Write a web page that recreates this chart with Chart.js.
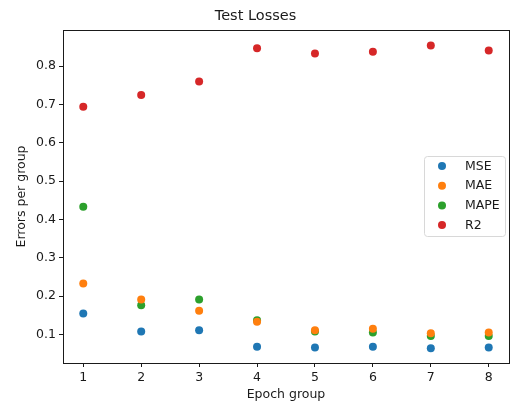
<!DOCTYPE html>
<html>
<head>
<meta charset="utf-8">
<script src="https://cdn.jsdelivr.net/npm/chart.js@4/dist/chart.umd.min.js"></script>
<style>
    html, body { margin: 0; padding: 0; background: #ffffff; }
    #wrap { width: 513px; height: 403px; }
</style>
</head>
<body>
<div id="wrap"><canvas id="losses" width="513" height="403"></canvas></div>
<script>
const epochs = [1, 2, 3, 4, 5, 6, 7, 8];
const mse = [0.155, 0.108, 0.111, 0.068, 0.066, 0.068, 0.064, 0.066];
const mae = [0.233, 0.191, 0.162, 0.133, 0.111, 0.115, 0.103, 0.105];
const mape = [0.433, 0.176, 0.191, 0.137, 0.108, 0.105, 0.096, 0.096];
const r2 = [0.694, 0.725, 0.760, 0.847, 0.833, 0.838, 0.854, 0.841];
const yTicks = [0.1, 0.2, 0.3, 0.4, 0.5, 0.6, 0.7, 0.8];

const seriesNames = ['MSE', 'MAE', 'MAPE', 'R2'];
const seriesColors = ['#1f77b4', '#ff7f0e', '#2ca02c', '#d62728'];
const ink = '#1a1a1a';
const font = "'DejaVu Sans', sans-serif";
const textSize = 12.5;
const dotRadius = 4;

function points(values) {
    return epochs.map((x, i) => ({ x, y: values[i] }));
}

// matplotlib style legend box inside the plot, right side
const boxLegend = {
    id: 'boxLegend',
    afterDraw(chart) {
        const ctx = chart.ctx;
        const x0 = 424, y0 = 156, w = 81, h = 80;
        ctx.save();
        ctx.fillStyle = 'rgba(255,255,255,0.8)';
        ctx.strokeStyle = '#d8d8d8';
        ctx.lineWidth = 1;
        ctx.beginPath();
        ctx.roundRect(x0 + 0.5, y0 + 0.5, w, h, 3);
        ctx.fill();
        ctx.stroke();
        ctx.font = textSize + 'px ' + font;
        ctx.textBaseline = 'middle';
        seriesNames.forEach((name, i) => {
            const cy = y0 + 10 + i * 19.7;
            ctx.fillStyle = seriesColors[i];
            ctx.beginPath();
            ctx.arc(442, cy, dotRadius, 0, Math.PI * 2);
            ctx.fill();
            ctx.fillStyle = ink;
            ctx.fillText(name, 465, cy + 0.5);
        });
        ctx.restore();
    },
};

new Chart(document.getElementById('losses'), {
    type: 'scatter',
    data: {
        datasets: seriesNames.map((name, i) => ({
            label: name,
            data: points([mse, mae, mape, r2][i]),
            backgroundColor: seriesColors[i],
            borderColor: seriesColors[i],
            pointRadius: dotRadius,
            pointHoverRadius: dotRadius,
            borderWidth: 0,
        })),
    },
    options: {
        responsive: false,
        animation: false,
        layout: { padding: { left: 0, right: 2, top: 0, bottom: 0 } },
        plugins: {
            legend: { display: false },
            tooltip: { enabled: false },
            title: {
                display: true,
                text: 'Test Losses',
                color: ink,
                font: { family: font, size: 14.5, weight: 'normal' },
                padding: { top: 7.3, bottom: 5.3 },
            },
        },
        scales: {
            x: {
                type: 'linear',
                min: 0.65,
                max: 8.35,
                afterBuildTicks: (scale) => { scale.ticks = epochs.map((v) => ({ value: v })); },
                afterFit: (scale) => { scale.height = 40; },
                ticks: {
                    color: ink,
                    font: { family: font, size: textSize },
                    padding: 3,
                    maxRotation: 0,
                },
                grid: { drawOnChartArea: false, drawTicks: true, tickLength: 4, color: ink },
                border: { display: true, color: ink, width: 1 },
                title: {
                    display: true,
                    text: 'Epoch group',
                    color: ink,
                    font: { family: font, size: textSize },
                    padding: { top: 0, bottom: 0.5 },
                },
            },
            y: {
                type: 'linear',
                min: 0.0255,
                max: 0.8945,
                afterBuildTicks: (scale) => { scale.ticks = yTicks.map((v) => ({ value: v })); },
                afterFit: (scale) => { scale.width = 63; },
                ticks: {
                    color: ink,
                    font: { family: font, size: textSize },
                    padding: 3,
                    callback: (v) => v.toFixed(1),
                },
                grid: { drawOnChartArea: false, drawTicks: true, tickLength: 4, color: ink },
                border: { display: true, color: ink, width: 1 },
                title: {
                    display: true,
                    text: 'Errors per group',
                    color: ink,
                    font: { family: font, size: textSize },
                    padding: { top: 14, bottom: 0 },
                },
            },
            x2: {
                type: 'linear',
                position: 'top',
                display: true,
                ticks: { display: false },
                grid: { display: false },
                border: { display: true, color: ink, width: 1 },
                afterFit: (scale) => { scale.height = 0; },
            },
            y2: {
                type: 'linear',
                position: 'right',
                display: true,
                ticks: { display: false },
                grid: { display: false },
                border: { display: true, color: ink, width: 1 },
                afterFit: (scale) => { scale.width = 0; },
            },
        },
    },
    plugins: [boxLegend],
});
</script>
</body>
</html>
